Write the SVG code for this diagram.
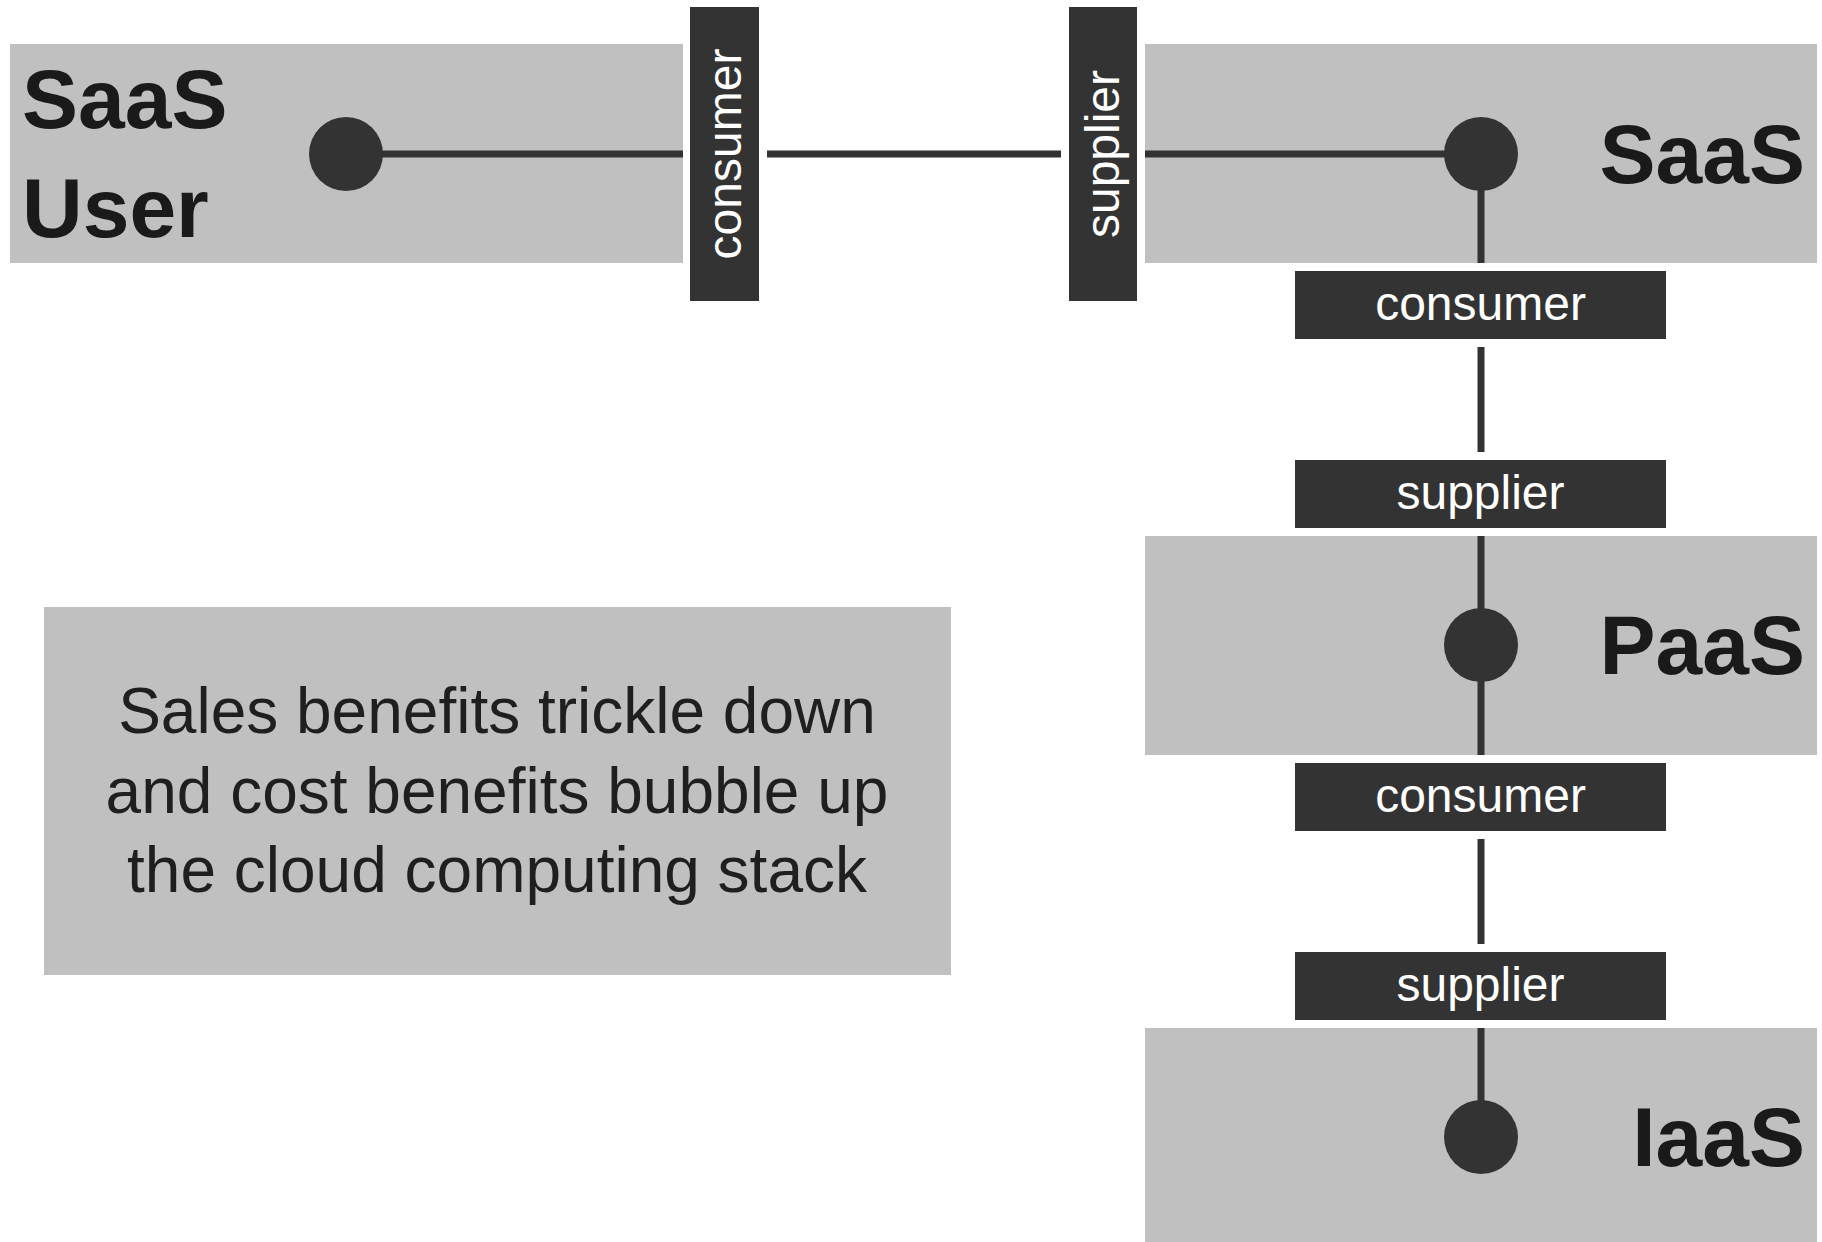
<svg xmlns="http://www.w3.org/2000/svg" width="1822" height="1242" viewBox="0 0 1822 1242">
<style>
.box{fill:#c0c0c0}
.lbl{fill:#333333}
.dot{fill:#333333}
.big{font-family:"Liberation Sans",Arial,sans-serif;font-weight:bold;font-size:84px;fill:#1a1a1a}
.lt{font-family:"Liberation Sans",Arial,sans-serif;font-size:48px;fill:#ffffff;text-anchor:middle}
.note{font-family:"Liberation Sans",Arial,sans-serif;font-size:64px;fill:#1f1f1f;text-anchor:middle}
.con{stroke:#333333;stroke-width:7;fill:none}
</style>
<rect width="1822" height="1242" fill="#ffffff"/>
<g id="saas-user">
<rect class="box" x="10" y="44" width="673" height="219"/>
<text class="big" x="22" y="128">SaaS</text>
<text class="big" x="22" y="237">User</text>
</g>
<g id="saas">
<rect class="box" x="1145" y="44" width="672" height="219"/>
<text class="big" x="1805" y="183" text-anchor="end">SaaS</text>
</g>
<g id="paas">
<rect class="box" x="1145" y="536" width="672" height="219"/>
<text class="big" x="1805" y="674" text-anchor="end">PaaS</text>
</g>
<g id="iaas">
<rect class="box" x="1145" y="1028" width="672" height="220"/>
<text class="big" x="1805" y="1166" text-anchor="end">IaaS</text>
</g>
<g id="note">
<rect class="box" x="44" y="607" width="907" height="368"/>
<text class="note" x="497" y="733">Sales benefits trickle down</text>
<text class="note" x="497" y="813">and cost benefits bubble up</text>
<text class="note" x="497" y="892">the cloud computing stack</text>
</g>
<g id="connectors">
<line class="con" x1="346" y1="154" x2="683" y2="154"/>
<line class="con" x1="767" y1="154" x2="1061" y2="154"/>
<line class="con" x1="1145" y1="154" x2="1481" y2="154"/>
<line class="con" x1="1481" y1="154" x2="1481" y2="263"/>
<line class="con" x1="1481" y1="347" x2="1481" y2="452"/>
<line class="con" x1="1481" y1="536" x2="1481" y2="755"/>
<line class="con" x1="1481" y1="839" x2="1481" y2="944"/>
<line class="con" x1="1481" y1="1028" x2="1481" y2="1137"/>
<circle class="dot" cx="346" cy="154" r="37"/>
<circle class="dot" cx="1481" cy="154" r="37"/>
<circle class="dot" cx="1481" cy="645" r="37"/>
<circle class="dot" cx="1481" cy="1137" r="37"/>
<g id="lbl-user-consumer">
<rect class="lbl" x="690" y="7" width="69" height="294"/>
<text class="lt" transform="translate(724.5,154) rotate(-90)" x="0" y="16">consumer</text>
</g>
<g id="lbl-saas-supplier">
<rect class="lbl" x="1069" y="7" width="68" height="294"/>
<text class="lt" transform="translate(1103,154) rotate(-90)" x="0" y="16">supplier</text>
</g>
<g id="lbl-saas-consumer">
<rect class="lbl" x="1295" y="271" width="371" height="68"/>
<text class="lt" x="1480.5" y="320">consumer</text>
</g>
<g id="lbl-paas-supplier">
<rect class="lbl" x="1295" y="460" width="371" height="68"/>
<text class="lt" x="1480.5" y="509">supplier</text>
</g>
<g id="lbl-paas-consumer">
<rect class="lbl" x="1295" y="763" width="371" height="68"/>
<text class="lt" x="1480.5" y="812">consumer</text>
</g>
<g id="lbl-iaas-supplier">
<rect class="lbl" x="1295" y="952" width="371" height="68"/>
<text class="lt" x="1480.5" y="1001">supplier</text>
</g>
</g>
</svg>
